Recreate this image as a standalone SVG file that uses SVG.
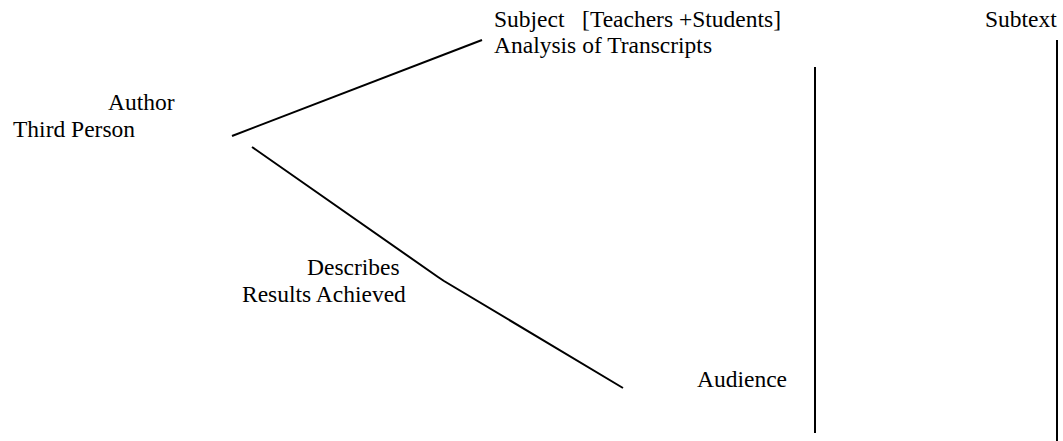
<svg xmlns="http://www.w3.org/2000/svg" width="1063" height="441" viewBox="0 0 1063 441">
  <style>
    .t { font-family: 'Liberation Serif', 'Times New Roman', serif; font-size: 23.5px; fill: #000; }
    .ln { stroke: #000; stroke-width: 2; fill: none; }
  </style>
  <rect width="1063" height="441" fill="#fff"/>
  <g id="connectors">
    <line class="ln" x1="232" y1="136" x2="482" y2="40"/>
    <polyline class="ln" points="252,147 438,277 444,281 623,388"/>
    <line class="ln" x1="815" y1="67" x2="815" y2="433"/>
    <line class="ln" x1="1057" y1="40" x2="1057" y2="441"/>
  </g>
  <g id="author">
    <text class="t" x="108" y="110">Author</text>
    <text class="t" x="13" y="137">Third Person</text>
  </g>
  <g id="subject">
    <text class="t" x="494" y="27" xml:space="preserve">Subject   [Teachers +Students]</text>
    <text class="t" x="494" y="53">Analysis of Transcripts</text>
  </g>
  <g id="subtext">
    <text class="t" x="985" y="27">Subtext</text>
  </g>
  <g id="describes">
    <text class="t" x="307" y="275">Describes</text>
    <text class="t" x="242" y="302">Results Achieved</text>
  </g>
  <g id="audience">
    <text class="t" x="697" y="387">Audience</text>
  </g>
</svg>
